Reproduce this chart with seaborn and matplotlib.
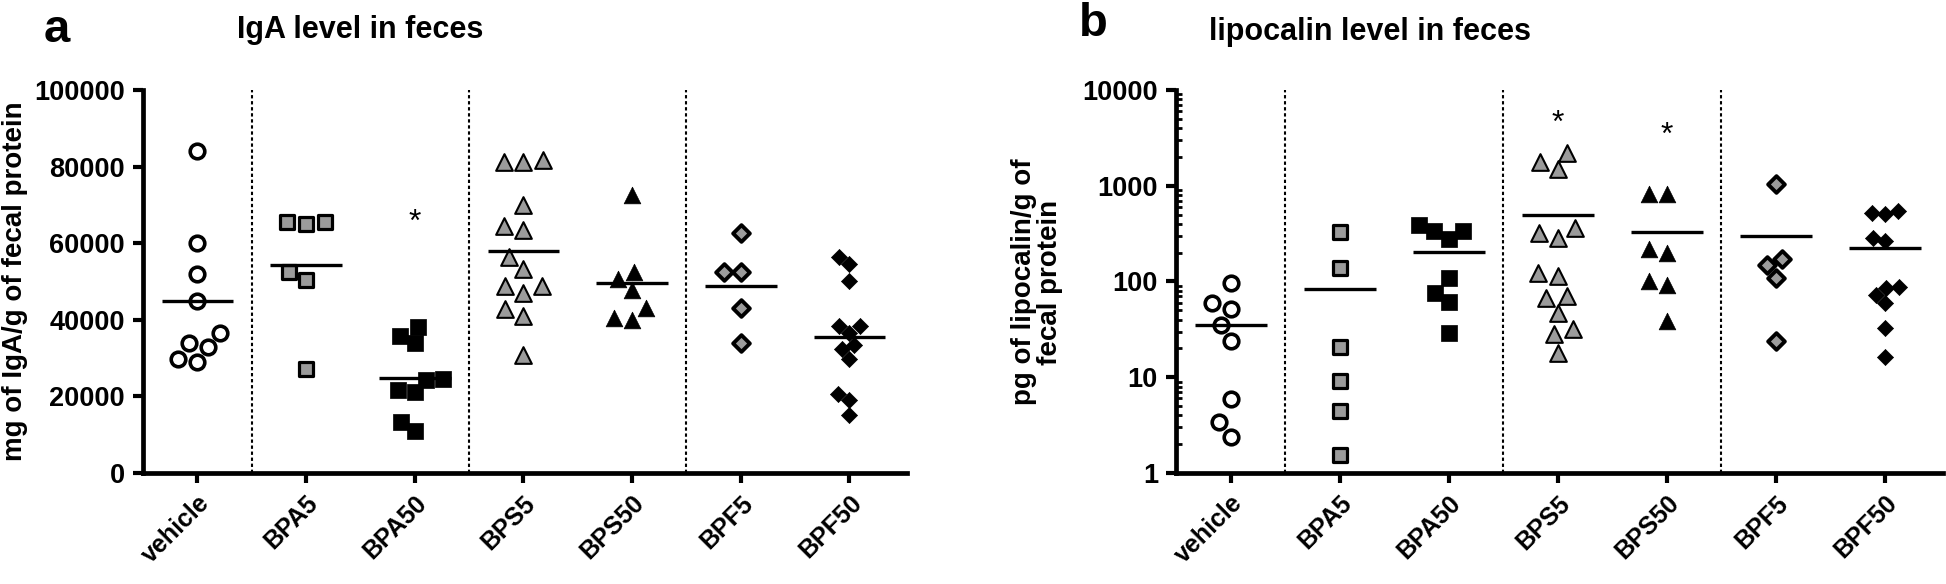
import numpy as np
import pandas as pd
import seaborn as sns
import matplotlib
matplotlib.use('Agg')
import matplotlib.pyplot as plt
import matplotlib.transforms as mtransforms

# groups / x categories
groups = ['vehicle', 'BPA5', 'BPA50', 'BPS5', 'BPS50', 'BPF5', 'BPF50']

# panel a: IgA (mg of IgA / g fecal protein)
iga_vehicle = [84000, 60000, 52000, 45000, 36600, 34000, 33000, 29700, 29000]
iga_bpa5 = [65500, 65000, 65500, 52500, 50500, 27200]
iga_bpa50 = [38000, 35800, 33900, 24500, 24300, 21700, 21200, 13300, 11000]
iga_bps5 = [81700, 81100, 81100, 70100, 64500, 63400, 56500, 53200, 48800,
            48700, 47100, 42700, 41000, 30800]
iga_bps50 = [72600, 52400, 50600, 47800, 43000, 40500, 40000]
iga_bpf5 = [62600, 52600, 52400, 43000, 33900]
iga_bpf50 = [56300, 54600, 50100, 38400, 38400, 36500, 33400, 32300, 29800,
             20500, 19100, 15100]

# panel b: lipocalin (pg / g fecal protein)
lcn_vehicle = [96, 59, 52, 35, 24, 5.9, 3.4, 2.4]
lcn_bpa5 = [327, 138, 20.8, 9.1, 4.4, 1.55]
lcn_bpa50 = [393, 340, 340, 279, 108, 75, 61, 29]
lcn_bps5 = [2210, 1780, 1490, 361, 320, 285, 124, 115, 70, 68, 47, 32, 28, 18]
lcn_bps50 = [826, 826, 219, 197, 102, 92, 39]
lcn_bpf5 = [1050, 172, 149, 109, 24]
lcn_bpf50 = [539, 518, 510, 285, 264, 88, 86, 73, 60, 33, 16.2]

# significance stars (group, y)
iga_stars = [('BPA50', 68000)]
lcn_stars = [('BPS5', 5700), ('BPS50', 4300)]

iga_ticks = [0, 20000, 40000, 60000, 80000, 100000]
lcn_ticks = [1, 10, 100, 1000, 10000]

iga = dict(zip(groups, [iga_vehicle, iga_bpa5, iga_bpa50, iga_bps5, iga_bps50, iga_bpf5, iga_bpf50]))
lcn = dict(zip(groups, [lcn_vehicle, lcn_bpa5, lcn_bpa50, lcn_bps5, lcn_bps50, lcn_bpf5, lcn_bpf50]))

gris = '#9b9b9b'
estilos = {
    'vehicle': dict(marker='o', color='white', edgecolor='black', linewidth=2.6, size=10.5),
    'BPA5': dict(marker='s', color=gris, edgecolor='black', linewidth=2.3, size=10.5),
    'BPA50': dict(marker='s', color='black', edgecolor='black', linewidth=0.5, size=11),
    'BPS5': dict(marker='^', color=gris, edgecolor='black', linewidth=1.5, size=12),
    'BPS50': dict(marker='^', color='black', edgecolor='black', linewidth=0.5, size=12),
    'BPF5': dict(marker='D', color=gris, edgecolor='black', linewidth=2.8, size=8.5),
    'BPF50': dict(marker='D', color='black', edgecolor='black', linewidth=0.5, size=8.2),
}

sns.set_style('ticks', {'axes.edgecolor': 'black', 'text.color': 'black',
                        'xtick.color': 'black', 'ytick.color': 'black',
                        'axes.labelcolor': 'black'})
plt.rcParams['font.family'] = ['Liberation Sans', 'DejaVu Sans']
plt.rcParams['font.weight'] = 'bold'

fig = plt.figure(figsize=(19.46, 5.84), dpi=100)
ax1 = fig.add_axes([0.0735, 0.1901, 0.3926, 0.6558])
ax2 = fig.add_axes([0.6043, 0.1901, 0.3941, 0.6558])
ax2.set_yscale('log')

tam_estrella = 23


def dibujar(ax, datos, estrellas, ymin, ymax):
    for g in groups:
        df = pd.DataFrame({'grupo': g, 'valor': datos[g]})
        sns.swarmplot(data=df, x='grupo', y='valor', order=groups, ax=ax,
                      zorder=3, **estilos[g])
    # linea de la media
    for i, g in enumerate(groups):
        ax.hlines(np.mean(datos[g]), i - 0.33, i + 0.33, color='black', lw=2.4, zorder=4)
    # separadores punteados
    for xs in [0.5, 2.5, 4.5]:
        ax.plot([xs, xs], [ymin, ymax], color='black', lw=1.5,
                linestyle=(0, (1.6, 1.3)), zorder=1)
    # asterisco centrado en el valor (glifo ~0.58 em sobre la linea base)
    trans = mtransforms.offset_copy(ax.transData, fig=fig, y=-0.58 * tam_estrella, units='points')
    for g, y in estrellas:
        ax.text(groups.index(g), y, '*', ha='center', va='baseline', transform=trans,
                fontsize=tam_estrella, fontweight='normal')
    ax.set_xlim(-0.5, 6.53)
    ax.set_ylim(ymin, ymax)
    ax.set_xlabel('')
    ax.set_ylabel('')
    sns.despine(ax=ax)
    for s in ['left', 'bottom']:
        ax.spines[s].set_linewidth(3.4)
    ax.tick_params(axis='both', which='major', width=3, length=7, labelsize=19.5, pad=6)
    ax.set_xticks(range(len(groups)))
    ax.set_xticklabels(groups, rotation=45, ha='right', rotation_mode='anchor',
                       fontweight='bold', fontsize=18)


dibujar(ax1, iga, iga_stars, 0, 100000)
ax1.set_yticks(iga_ticks)
ax1.set_yticklabels([str(t) for t in iga_ticks], fontweight='bold')

dibujar(ax2, lcn, lcn_stars, 1, 10000)
ax2.set_yticks(lcn_ticks)
ax2.set_yticklabels([str(t) for t in lcn_ticks], fontweight='bold')
ax2.yaxis.set_minor_locator(matplotlib.ticker.LogLocator(base=10, subs=np.arange(2, 10)))
ax2.yaxis.set_minor_formatter(matplotlib.ticker.NullFormatter())
ax2.tick_params(axis='y', which='minor', direction='in', length=4, width=2, left=True)

# titulos, letras de panel y etiquetas de ejes
fig.text(360 / 1946, 1 - 30 / 584, 'IgA level in feces', ha='center', va='center',
         fontsize=22, fontweight='bold')
fig.text(1370 / 1946, 1 - 32 / 584, 'lipocalin level in feces', ha='center', va='center',
         fontsize=22, fontweight='bold')
fig.text(57 / 1946, 1 - 30 / 584, 'a', ha='center', va='center', fontsize=34, fontweight='bold')
fig.text(1093 / 1946, 1 - 24 / 584, 'b', ha='center', va='center', fontsize=34, fontweight='bold')
fig.text(15 / 1946, 1 - 281 / 584, 'mg of IgA/g of fecal protein', rotation=90,
         ha='center', va='center', fontsize=20, fontweight='bold')
fig.text(1037 / 1946, 1 - 282 / 584, 'pg of lipocalin/g of\nfecal protein', rotation=90,
         ha='center', va='center', fontsize=20, fontweight='bold', linespacing=1.0,
         multialignment='center')

fig.savefig('out.png', dpi=100)
